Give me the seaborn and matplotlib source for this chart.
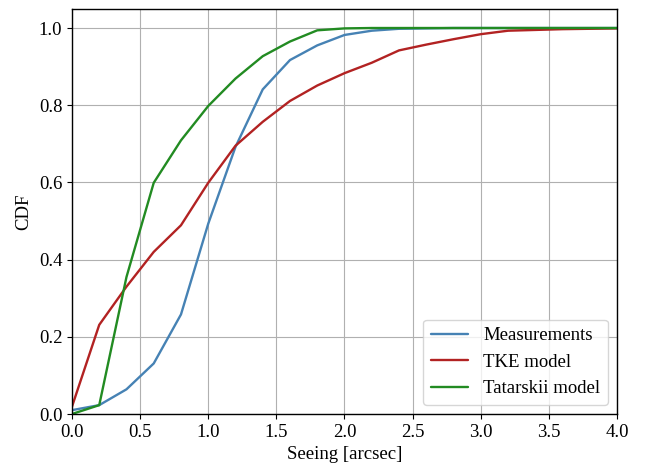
import numpy as np
import pandas as pd
import matplotlib
matplotlib.use("Agg")
import matplotlib.pyplot as plt
import seaborn as sns

seeing = [0.0, 0.2, 0.4, 0.6, 0.8, 1.0, 1.2, 1.4, 1.6, 1.8, 2.0,
          2.2, 2.4, 2.6, 2.8, 3.0, 3.2, 3.4, 3.6, 3.8, 4.0]

measurements = [0.010, 0.023, 0.064, 0.131, 0.258, 0.493, 0.692, 0.841, 0.917, 0.955, 0.982,
                0.993, 0.998, 0.999, 1.0, 1.0, 1.0, 1.0, 1.0, 1.0, 1.0]
tke_model = [0.019, 0.231, 0.330, 0.420, 0.489, 0.599, 0.695, 0.757, 0.811, 0.851, 0.883,
             0.910, 0.942, 0.957, 0.971, 0.984, 0.993, 0.995, 0.997, 0.998, 0.999]
tatarskii_model = [0.0, 0.023, 0.355, 0.599, 0.709, 0.798, 0.869, 0.927, 0.965, 0.994, 0.999,
                   1.0, 1.0, 1.0, 1.0, 1.0, 1.0, 1.0, 1.0, 1.0, 1.0]

labels = ["Measurements", "TKE model", "Tatarskii model"]
colors = ["#4682b4", "#b22222", "#228b22"]

df = pd.concat([
    pd.DataFrame({"seeing": seeing, "cdf": vals, "series": name})
    for name, vals in zip(labels, [measurements, tke_model, tatarskii_model])
])

sns.set_style("ticks")
plt.rcParams["font.family"] = ["Liberation Serif", "DejaVu Serif"]
plt.rcParams["font.size"] = 13.5
plt.rcParams["text.color"] = "black"
plt.rcParams["axes.labelcolor"] = "black"

fig = plt.figure(figsize=(6.45, 4.71), dpi=100)
ax = fig.add_axes([0.1116, 0.121, 0.845, 0.8605])

sns.lineplot(data=df, x="seeing", y="cdf", hue="series", hue_order=labels,
             palette=colors, linewidth=1.7, ax=ax)

ax.set_xlim(0, 4)
ax.set_ylim(0, 1.05)
ax.set_xticks(np.arange(0, 4.01, 0.5))
ax.set_yticks(np.arange(0, 1.01, 0.2))
ax.grid(True, color="#b0b0b0", linewidth=0.8)
ax.set_xlabel("Seeing [arcsec]", labelpad=4)
ax.set_ylabel("CDF", labelpad=5)
for s in ax.spines.values():
    s.set_visible(True)
    s.set_color("black")
    s.set_linewidth(1.0)
ax.tick_params(colors="black", labelsize=13.5, length=3.5, width=0.8, pad=3.5)
ax.legend(loc="lower right", fontsize=13.5, framealpha=0.8, edgecolor="#cccccc")

fig.savefig("out.png", dpi=100)
